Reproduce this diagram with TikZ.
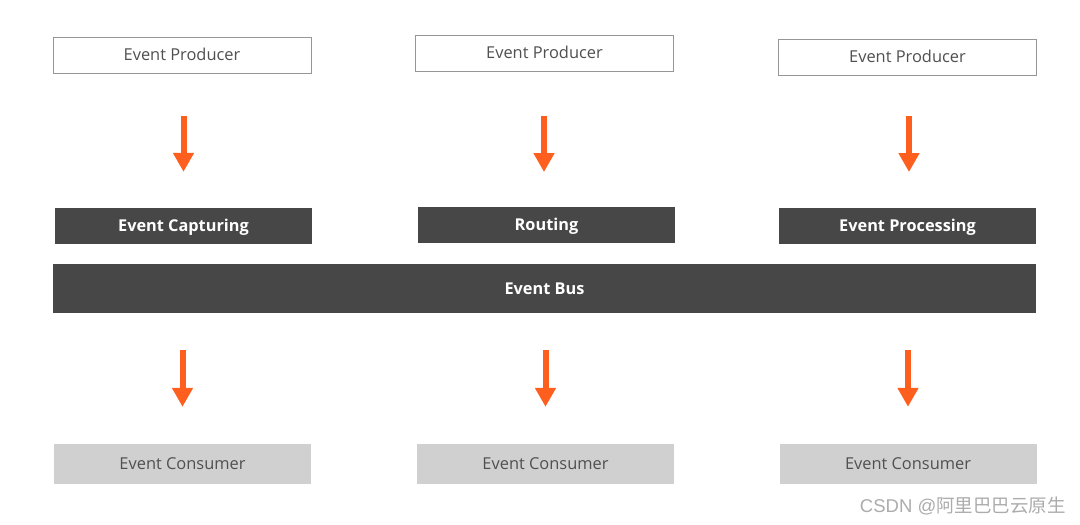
\documentclass[tikz,border=0pt]{standalone}
\usepackage{fontspec}
\setmainfont{Open Sans}
\newfontfamily\cjkfont{Noto Sans CJK SC}
\usetikzlibrary{arrows.meta}
\definecolor{busgray}{RGB}{71,71,71}
\definecolor{consgray}{RGB}{208,208,208}
\definecolor{framegray}{RGB}{150,150,150}
\definecolor{textgray}{RGB}{80,80,80}
\definecolor{floworange}{RGB}{255,95,30}

\begin{document}
\begin{tikzpicture}[x=1pt, y=-1pt,
    boxtext/.style={inner sep=0pt, text height=13pt, text depth=2pt, font=\fontsize{16.4}{19}\selectfont},
    producer/.style={boxtext, draw=framegray, line width=0.9pt, fill=white, minimum width=258pt, minimum height=36pt, text=textgray},
    stage/.style={boxtext, fill=busgray, minimum width=257pt, minimum height=36pt, font=\fontsize{16.3}{19}\selectfont\bfseries, text=white},
    consumer/.style={boxtext, fill=consgray, minimum width=257pt, minimum height=40pt, text=textgray},
    flow/.style={floworange, line width=6pt, -{Triangle[width=20pt,length=19pt]}}]
    % Canvas
    \useasboundingbox[fill=white] (0,0) rectangle (1080,525);

    % Producers
    \node[producer] (prod1) at (182,55) {Event Producer};
    \node[producer] (prod2) at (544.5,53) {Event Producer};
    \node[producer] (prod3) at (907.5,57) {Event Producer};

    % Stages
    \node[stage] (capture) at (183.5,226) {Event Capturing};
    \node[stage] (routing) at (546.5,225) {Routing};
    \node[stage] (process) at (907.5,226) {Event Processing};

    % Event bus
    \node[stage, minimum width=983pt, minimum height=49pt] (bus) at (544.5,288.5) {Event Bus};

    % Consumers
    \node[consumer] (cons1) at (182.5,464) {Event Consumer};
    \node[consumer] (cons2) at (545.5,464) {Event Consumer};
    \node[consumer] (cons3) at (908,464) {Event Consumer};

    % Arrows producer -> stage
    \draw[flow, shorten <=43pt, shorten >=36pt] (prod1.south -| capture.north) -- (capture.north);
    \draw[flow, shorten <=45pt, shorten >=35pt] (prod2.south -| 544,0) -- (544,207);
    \draw[flow, shorten <=41pt, shorten >=36pt] (prod3.south -| 909,0) -- (909,208);

    % Arrows bus -> consumer
    \draw[flow, shorten <=37pt, shorten >=37pt] (bus.south -| cons1.north) -- (cons1.north);
    \draw[flow, shorten <=37pt, shorten >=37pt] (bus.south -| cons2.north) -- (cons2.north);
    \draw[flow, shorten <=37pt, shorten >=37pt] (bus.south -| cons3.north) -- (cons3.north);

    % Watermark
    \node[anchor=east, font=\fontsize{18.5}{21}\selectfont, text=gray!65, inner sep=0pt] (mark) at (1066,506) {\fontspec{Liberation Sans}CSDN @\cjkfont 阿里巴巴云原生};
\end{tikzpicture}
\end{document}
